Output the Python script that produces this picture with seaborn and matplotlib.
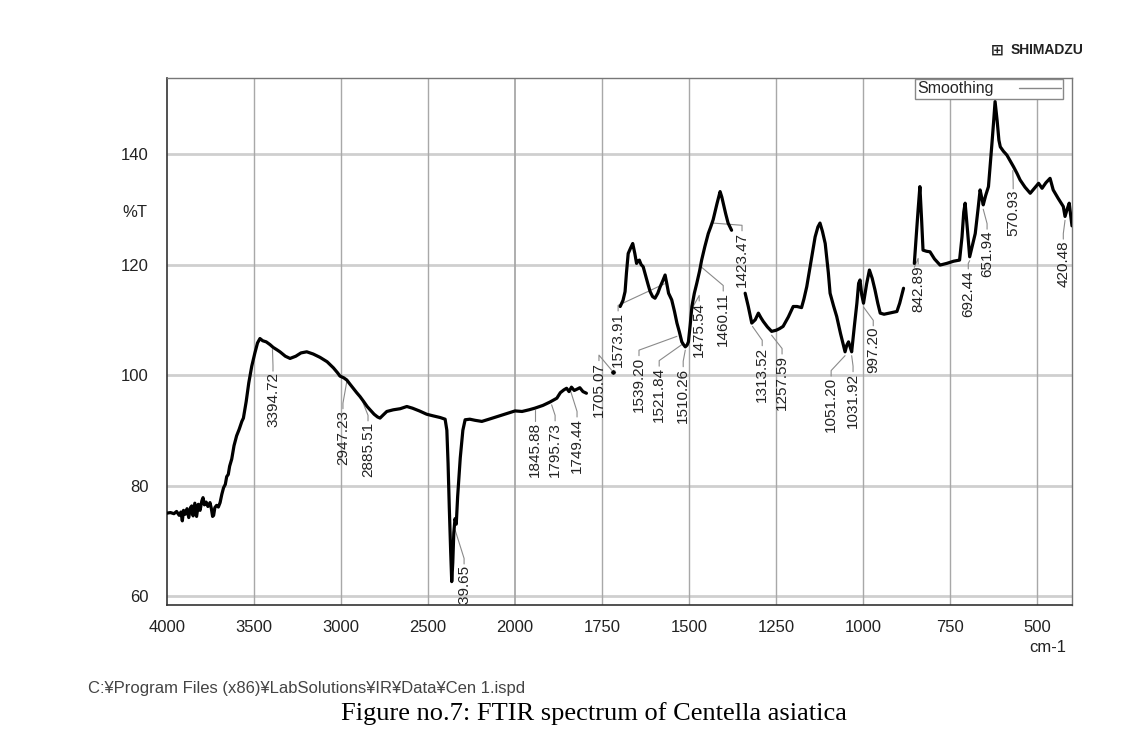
import numpy as np
import pandas as pd
import matplotlib
matplotlib.use("Agg")
import matplotlib.pyplot as plt
from matplotlib.ticker import FixedLocator, FixedFormatter
from matplotlib.lines import Line2D
import seaborn as sns

# ---------------- data ----------------
seg1_wn = [4000, 3980, 3960, 3945, 3930, 3920, 3912, 3905, 3895, 3885, 3875, 3865, 3858, 3850, 3840, 3830,
           3820, 3810, 3800, 3793, 3785, 3775, 3765, 3753, 3745, 3738, 3732, 3725, 3715, 3705, 3695, 3685,
           3675, 3665, 3657, 3648, 3640, 3628, 3615, 3600, 3585, 3570, 3561, 3545, 3530, 3513, 3495, 3480,
           3466, 3450, 3430, 3408, 3390, 3370, 3351, 3320, 3293, 3260, 3230, 3197, 3160, 3121, 3080, 3044,
           3020, 3006, 2985, 2967, 2950, 2930, 2910, 2891, 2870, 2850, 2833, 2810, 2790, 2776, 2760, 2737,
           2700, 2660, 2622, 2590, 2550, 2508, 2470, 2430, 2402, 2392, 2385, 2378, 2370, 2364, 2358, 2352,
           2345, 2338, 2330, 2315, 2300, 2287, 2260, 2230, 2191, 2150, 2100, 2050, 2000, 1980, 1960, 1943,
           1920, 1900, 1880, 1870, 1860, 1852, 1845, 1838, 1830, 1820, 1814, 1805, 1795]
seg1_t = [75.0, 75.1, 74.9, 75.3, 74.6, 75.2, 73.6, 75.5, 74.8, 75.8, 74.2, 76.0, 76.3, 74.5, 76.8, 74.4,
          76.6, 75.5, 77.2, 77.8, 76.5, 77.0, 76.2, 76.9, 75.8, 74.4, 74.6, 76.0, 76.4, 76.1, 76.9, 78.4,
          79.6, 80.2, 81.6, 82.0, 83.5, 84.8, 87.2, 89.0, 90.2, 91.6, 92.2, 95.2, 98.6, 101.6, 104.0, 105.8,
          106.6, 106.2, 106.0, 105.5, 105.0, 104.6, 104.2, 103.4, 103.0, 103.4, 104.0, 104.2, 103.8, 103.2, 102.4, 101.3,
          100.4, 99.8, 99.5, 99.1, 98.4, 97.6, 96.8, 96.1, 95.2, 94.3, 93.7, 92.9, 92.4, 92.2, 92.7, 93.4,
          93.7, 93.9, 94.3, 94.0, 93.5, 92.9, 92.6, 92.3, 92.0, 90.0, 84.0, 76.0, 68.0, 62.6, 66.0, 71.5,
          74.0, 73.0, 78.0, 85.0, 90.0, 91.9, 92.0, 91.8, 91.6, 92.0, 92.5, 93.0, 93.5, 93.4, 93.7, 94.0,
          94.5, 95.1, 95.8, 96.8, 97.3, 97.6, 97.0, 97.8, 97.2, 97.5, 97.7, 97.0, 96.7]

seg2_wn = [1698, 1690, 1684, 1680, 1675, 1668, 1662, 1656, 1651, 1647, 1643, 1638, 1632, 1625, 1618, 1612,
           1605, 1598, 1590, 1583, 1576, 1569, 1564, 1559, 1550, 1542, 1535, 1528, 1521, 1516, 1511, 1506,
           1502, 1497, 1492, 1485, 1478, 1470, 1464, 1455, 1445, 1438, 1431, 1420, 1411, 1406, 1402, 1395,
           1388, 1378]
seg2_t = [112.4, 113.5, 115.1, 118.5, 122.0, 123.0, 123.8, 122.0, 120.2, 120.6, 120.8, 120.0, 119.6, 118.0, 116.4, 115.1,
          114.2, 113.9, 114.8, 116.0, 117.0, 118.1, 116.5, 114.8, 113.6, 111.5, 109.4, 107.8, 106.0, 105.5, 105.1, 105.4,
          106.0, 109.0, 112.4, 114.8, 116.6, 118.8, 120.8, 123.2, 125.6, 126.8, 128.1, 131.0, 133.2, 132.2, 131.1, 129.2,
          127.5, 126.2]

seg3_wn = [1339, 1330, 1320, 1310, 1301, 1294, 1287, 1275, 1263, 1250, 1240, 1230, 1215, 1201, 1190, 1177,
           1170, 1162, 1150, 1138, 1130, 1124, 1117, 1109, 1100, 1095, 1085, 1076, 1065, 1052, 1047, 1042,
           1037, 1033, 1025, 1018, 1013, 1009, 1004, 999, 990, 982, 974, 966, 958, 951, 940, 925, 903, 895, 884]
seg3_t = [114.8, 112.4, 109.4, 110.0, 111.2, 110.4, 109.7, 108.7, 107.9, 108.1, 108.4, 108.8, 110.5, 112.4, 112.4, 112.2,
          113.8, 116.0, 120.5, 125.0, 126.8, 127.5, 126.0, 123.8, 118.5, 114.8, 112.5, 110.6, 107.5, 104.2, 105.4, 106.0,
          105.0, 104.2, 109.0, 113.0, 116.6, 117.2, 114.5, 113.0, 116.5, 119.0, 117.5, 115.4, 113.0, 111.2, 111.0, 111.2,
          111.5, 113.0, 115.7]

seg4_wn = [853, 847, 842, 837, 832, 828, 818, 808, 795, 779, 760, 740, 723, 716, 711, 707, 700, 694, 686, 678,
           670, 664, 659, 655, 648, 640, 635, 630, 625, 621, 615, 610, 606, 597, 587, 578, 568, 558, 549, 535,
           520, 508, 496, 486, 475, 463, 454, 440, 430, 425, 420, 414, 408, 404, 400]
seg4_t = [120.2, 125.6, 130.0, 134.1, 128.0, 122.6, 122.4, 122.3, 121.0, 119.9, 120.2, 120.6, 120.8, 125.0, 129.5, 131.1,
          126.0, 121.4, 123.5, 125.6, 130.0, 133.5, 132.0, 130.8, 132.5, 134.1, 138.0, 141.9, 146.0, 149.5, 146.0, 142.5,
          141.3, 140.5, 139.8, 138.8, 137.7, 136.5, 135.3, 134.0, 132.9, 133.8, 134.7, 133.8, 134.8, 135.6, 133.5, 132.0,
          131.0, 130.5, 128.7, 130.0, 131.1, 129.0, 127.0]

dot_wn = [1719]
dot_t = [100.6]

peak_labels = ["3394.72", "2947.23", "2885.51", "2339.65", "1845.88", "1795.73", "1749.44", "1705.07",
               "1573.91", "1539.20", "1521.84", "1510.26", "1475.54", "1460.11", "1423.47", "1313.52",
               "1257.59", "1051.20", "1031.92", "997.20", "842.89", "692.44", "651.94", "570.93", "420.48"]
label_wn = [3391, 2989, 2845, 2293, 1943, 1885, 1822, 1759, 1704, 1644, 1586, 1517, 1471, 1402, 1348, 1290,
            1233, 1092, 1029, 971, 842, 698, 644, 569, 425]
label_top = [100.5, 93.7, 91.5, 65.6, 91.5, 91.5, 92.2, 102.4, 111.4, 103.3, 101.4, 101.3, 113.2, 115.0,
             125.9, 105.1, 103.6, 99.6, 100.4, 108.7, 119.9, 119.0, 126.2, 133.5, 124.4]
leader_wn = [3394, 2967, 2880, 2345, 1943, 1895, 1840, 1719, 1571, 1535, 1521, 1511, 1492, 1464, 1431, 1318,
             1263, 1052, 1033, 999, 853, 694, 655, 570, 420]
leader_t = [104.6, 98.8, 95.5, 72.0, 93.6, 94.6, 97.0, 100.6, 116.5, 107.0, 105.5, 104.5, 112.0, 119.5, 127.5,
            108.8, 107.2, 103.5, 103.5, 112.3, 119.5, 120.7, 130.0, 137.0, 128.0]

x_major = [4000, 3500, 3000, 2500, 2000, 1750, 1500, 1250, 1000, 750, 500]
y_major = [60, 80, 100, 120, 140]

# ---------------- build frame ----------------
frames = []
for i, (w, t) in enumerate([(seg1_wn, seg1_t), (seg2_wn, seg2_t), (seg3_wn, seg3_t), (seg4_wn, seg4_t)]):
    frames.append(pd.DataFrame({"wn": w, "T": t, "seg": i}))
df = pd.concat(frames, ignore_index=True)

sns.set_style("white")
plt.rcParams["font.family"] = ["Liberation Sans", "DejaVu Sans"]

fig = plt.figure(figsize=(11.28, 7.52), dpi=100)
ax = fig.add_axes([167 / 1128, 1 - 605 / 752, (1072 - 167) / 1128, (605 - 78) / 752])


def fwd(x):
    x = np.asarray(x, dtype=float)
    return np.where(x > 2000, 2000 + (x - 2000) / 2.0, x)


def inv(y):
    y = np.asarray(y, dtype=float)
    return np.where(y > 2000, 2000 + (y - 2000) * 2.0, y)


ax.set_xscale("function", functions=(fwd, inv))
ax.set_xlim(4000, 400)
ax.set_ylim(58.37, 153.76)

# grid
for v in y_major:
    ax.axhline(v, color="#cfcfcf", lw=2.0, zorder=0)
for v in x_major[1:]:
    ax.axvline(v, color="#a8a8a8", lw=1.3 if v == 2000 else 1.0, zorder=0)

sns.lineplot(data=df, x="wn", y="T", units="seg", estimator=None, sort=False,
             color="black", lw=2.3, ax=ax, legend=False, zorder=3)
sns.scatterplot(x=dot_wn, y=dot_t, color="black", s=14, ax=ax, zorder=4, legend=False)

# peak labels with leader lines
for lab, lx, lt, px, pt in zip(peak_labels, label_wn, label_top, leader_wn, leader_t):
    ax.plot([px, lx, lx], [pt, lt + 1.2, lt + 0.2], color="#8a8a8a", lw=0.8, zorder=2, clip_on=True)
    ax.text(lx, lt, lab, rotation=90, ha="center", va="top", fontsize=11, color="#222222",
            clip_on=True, zorder=5)

# ticks
ax.xaxis.set_major_locator(FixedLocator(x_major))
ax.xaxis.set_major_formatter(FixedFormatter([str(v) for v in x_major]))
minor_x = list(range(3900, 2000, -100)) + list(range(1950, 399, -50))
ax.xaxis.set_minor_locator(FixedLocator(minor_x))
ax.yaxis.set_major_locator(FixedLocator(y_major))
ax.yaxis.set_minor_locator(FixedLocator(list(range(64, 153, 4))))
ax.tick_params(axis="both", which="major", labelsize=12, colors="#222222", length=6, width=1.0, pad=6)
ax.tick_params(axis="x", which="major", direction="inout", length=8, pad=7)
ax.tick_params(axis="x", which="minor", direction="in", length=5, width=0.9, colors="#555555")
ax.tick_params(axis="y", which="minor", direction="out", length=4, width=0.9, colors="#777777")
ax.tick_params(axis="y", which="major", direction="out", length=7, colors="#555555", labelcolor="#222222")
ax.set_xlabel("")
ax.set_ylabel("")

for side in ["top", "right"]:
    ax.spines[side].set_color("#777777")
    ax.spines[side].set_linewidth(1.0)
for side in ["left", "bottom"]:
    ax.spines[side].set_color("#333333")
    ax.spines[side].set_linewidth(1.2)

ax.text(-0.036, (129.5 - 58.37) / (153.76 - 58.37), "%T", transform=ax.transAxes,
        ha="center", va="center", fontsize=12, color="#222222")

# legend
handle = Line2D([0], [0], color="#888888", lw=1.0)
leg = ax.legend([handle], ["Smoothing"], loc="upper right",
                bbox_to_anchor=((1063 - 167) / 905, (605 - 79) / 527),
                markerfirst=False, fancybox=False, framealpha=1, edgecolor="#888888",
                fontsize=11.5, handlelength=2.6, handletextpad=1.6, borderpad=0.15,
                borderaxespad=0)
leg.get_frame().set_linewidth(1.0)

# figure texts
fig.text(1048 / 1128, 1 - 648 / 752, "cm-1", ha="center", va="center", fontsize=12, color="#222222")
fig.text(88 / 1128, 1 - 689 / 752, "C:\u00a5Program Files (x86)\u00a5LabSolutions\u00a5IR\u00a5Data\u00a5Cen 1.ispd",
         ha="left", va="center", fontsize=12, color="#444444")
fig.text(594 / 1128, 1 - 714 / 752, "Figure no.7: FTIR spectrum of Centella asiatica",
         ha="center", va="center", fontsize=19, family=["Liberation Serif", "DejaVu Serif"], color="black")
fig.text(1083 / 1128, 1 - 50 / 752, "SHIMADZU", ha="right", va="center", fontsize=10,
         weight="bold", color="#222222")
fig.text(1004 / 1128, 1 - 50 / 752, "\u229e", ha="right", va="center", fontsize=11,
         family=["DejaVu Sans"], weight="bold", color="#222222")

fig.savefig("out.png", dpi=100, facecolor="white")
